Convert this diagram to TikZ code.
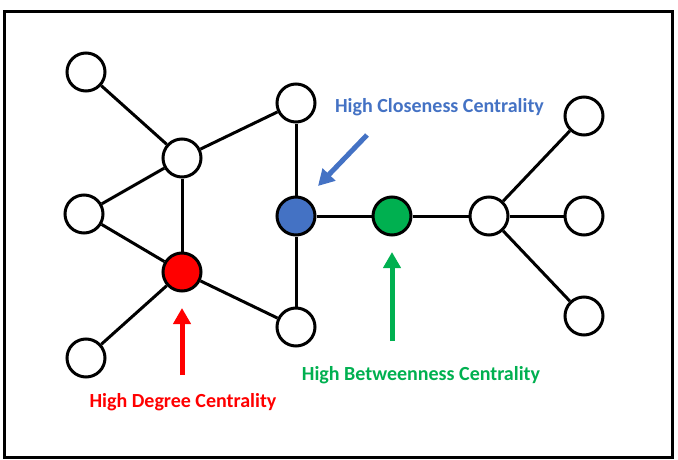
\documentclass[tikz,border=0pt]{standalone}
\usepackage{fontspec}
\setmainfont{Carlito}
\usetikzlibrary{arrows.meta}
\definecolor{cred}{RGB}{255,0,0}
\definecolor{cblue}{RGB}{68,114,196}
\definecolor{cgreen}{RGB}{0,176,80}
\tikzset{
  vtx/.style={circle, draw=black, line width=3pt, minimum size=38pt, inner sep=0pt, fill=white},
  edge/.style={line width=3pt, black},
  bigarrow/.style={line width=5pt, -{Triangle[length=16pt,width=17pt]}},
  lbl/.style={font=\bfseries\fontsize{20}{24}\selectfont, inner sep=0pt}
}
\begin{document}
\begin{tikzpicture}[x=1pt, y=-1pt]
\useasboundingbox (0,0) rectangle (678,460);
\draw[line width=3pt] (4,12) rectangle (672,457);
% nodes
\node[vtx] (a) at (86,72) {};
\node[vtx] (b) at (182,158) {};
\node[vtx] (c) at (296,103) {};
\node[vtx] (d) at (84,214) {};
\node[vtx, fill=cred] (e) at (182,272) {};
\node[vtx] (f) at (86,358) {};
\node[vtx] (g) at (296,327) {};
\node[vtx, fill=cblue] (h) at (296,216) {};
\node[vtx, fill=cgreen] (i) at (392,216) {};
\node[vtx] (j) at (489,216) {};
\node[vtx] (k) at (584,116) {};
\node[vtx] (l) at (584,216) {};
\node[vtx] (m) at (584,316) {};
% edges
\draw[edge] (a) -- (b);
\draw[edge] (b) -- (c);
\draw[edge] (b) -- (d);
\draw[edge] (b) -- (e);
\draw[edge] (d) -- (e);
\draw[edge] (e) -- (f);
\draw[edge] (e) -- (g);
\draw[edge] (c) -- (h);
\draw[edge] (h) -- (g);
\draw[edge] (h) -- (i);
\draw[edge] (i) -- (j);
\draw[edge] (j) -- (k);
\draw[edge] (j) -- (l);
\draw[edge] (j) -- (m);
% arrows
\coordinate (rt) at (182,375);
\coordinate (rh) at (182,308);
\coordinate (gt) at (392,341);
\coordinate (gh) at (392,252);
\coordinate (bt) at (367,135);
\coordinate (bh) at (318,186);
\draw[bigarrow, cred] (rt) -- (rh);
\draw[bigarrow, cgreen] (gt) -- (gh);
\draw[bigarrow, cblue] (bt) -- (bh);
% labels
\node[lbl, text=cblue] (lc) at (439.5,107) {High Closeness Centrality};
\node[lbl, text=cred] (ld) at (183,402) {High Degree Centrality};
\node[lbl, text=cgreen] (lb) at (421,375) {High Betweenness Centrality};
\end{tikzpicture}
\end{document}
